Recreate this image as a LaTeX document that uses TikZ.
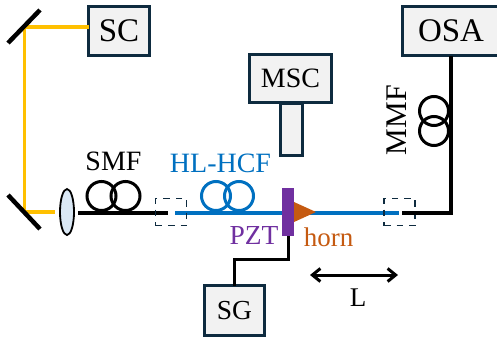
\documentclass[tikz,border=0pt]{standalone}
\usepackage{fontspec}
\setmainfont{Liberation Serif}
\usetikzlibrary{arrows.meta,shapes.geometric}
\definecolor{boxedge}{HTML}{0E2B3F}
\definecolor{boxfill}{HTML}{F2F2F2}
\definecolor{beam}{HTML}{FFC000}
\definecolor{hcf}{HTML}{0070C0}
\definecolor{pzt}{HTML}{7030A0}
\definecolor{hornc}{HTML}{C55A11}
\definecolor{lensc}{HTML}{DAE8F5}
\newcommand{\fs}[1]{\fontsize{#1}{#1}\selectfont}
\tikzset{
  inst/.style={draw=boxedge,fill=boxfill,line width=3pt,inner sep=0pt,outer sep=0pt},
  coil/.style={circle,draw=#1,line width=3pt,minimum size=29pt,inner sep=0pt,outer sep=0pt},
  mirror/.style={line width=4.5pt,black},
  yellowbeam/.style={beam,line width=3.5pt,line join=miter},
  smfwire/.style={black,line width=3.5pt},
  hcfwire/.style={hcf,line width=3.5pt},
  dashbox/.style={draw=boxedge,line width=1.7pt,dash pattern=on 6.5pt off 6pt,minimum width=31pt,minimum height=27pt,inner sep=0pt,outer sep=0pt},
  txt/.style={inner sep=0pt,outer sep=0pt}
}
\begin{document}
\begin{tikzpicture}[x=1pt,y=-1pt]
\useasboundingbox (0,0) rectangle (497,343);
% coordinates
\coordinate (m1a) at (8,43); \coordinate (m1b) at (40,10);
\coordinate (m2a) at (8,195); \coordinate (m2b) at (40,229);
\coordinate (y1) at (24.5,27); \coordinate (y2) at (24.5,212);
\coordinate (yend) at (55,212);
\coordinate (s1) at (78,213); \coordinate (s2) at (168,213);
\coordinate (b1) at (175,213); \coordinate (b2) at (399,213);
\coordinate (k1) at (402,213); \coordinate (k2) at (451,213);
\coordinate (w1) at (288,259); \coordinate (w2) at (234.5,259);
\coordinate (arrL) at (310,275); \coordinate (arrR) at (398,275);
% instruments
\node[inst,minimum width=61pt,minimum height=49pt] (sc) at (119,31) {\fs{33}SC};
\node[inst,minimum width=22pt,minimum height=52pt] (stem) at (291.5,129) {};
\node[inst,minimum width=82pt,minimum height=48pt] (msc) at (290.5,78) {\fs{28}MSC};
\node[inst,minimum width=104pt,minimum height=49pt] (osa) at (454,31) {};
\node[txt] (osal) at (451,31) {\fs{33}OSA};
\node[inst,minimum width=60pt,minimum height=50pt] (sg) at (234.5,310.5) {\fs{27.5}SG};
% yellow beam
\draw[yellowbeam] (sc.west |- y1) -- (y1) -- (y2) -- (yend);
% mirrors
\draw[mirror] (m1a) -- (m1b);
\draw[mirror] (m2a) -- (m2b);
% lens
\node[ellipse,draw=black,fill=lensc,line width=1.8pt,minimum width=14pt,minimum height=46pt,inner sep=0pt] (lens) at (67,212) {};
% SMF
\node[coil=black] (c1) at (101.5,196) {};
\node[coil=black] (c2) at (125.5,196) {};
\draw[smfwire] (s1) -- (s2);
% HCF
\node[coil=hcf] (c3) at (216,196) {};
\node[coil=hcf] (c4) at (239,196) {};
\draw[hcfwire] (b1) -- (b2);
% dashed sleeves
\node[dashbox] (d1) at (171,212) {};
\node[dashbox] (d2) at (399.5,212) {};
% PZT wire
\draw[black,line width=3pt,line join=miter] (288,236) -- (w1) -- (w2) -- (sg.north -| w2);
% PZT and horn
\node[fill=pzt,minimum width=12pt,minimum height=48pt,inner sep=0pt,outer sep=0pt] (pztb) at (288,212) {};
\fill[hornc] (294,202) -- (294,222) -- (316,212) -- cycle;
% OSA branch
\draw[smfwire,line width=4pt,line join=miter] (k1) -- (k2) -- (osa.south -| k2);
\node[coil=black] (c5) at (434,111) {};
\node[coil=black] (c6) at (434,131) {};
% arrow
\draw[black,line width=3pt,{Straight Barb[length=8pt,width=13pt]}-{Straight Barb[length=8pt,width=13pt]}] (arrL) -- (arrR);
% labels
\node[txt] (lsmf) at (113.5,161) {\fs{28}SMF};
\node[txt,text=hcf] (lhcf) at (220.5,163) {\fs{28}HL-HCF};
\node[txt,text=pzt] (lpzt) at (254,235) {\fs{27.5}PZT};
\node[txt,text=hornc] (lhorn) at (328.5,237) {\fs{27}horn};
\node[txt] (lL) at (358,298) {\fs{27}L};
\node[txt,rotate=90] (lmmf) at (397,120) {\fs{30}MMF};
\end{tikzpicture}
\end{document}
